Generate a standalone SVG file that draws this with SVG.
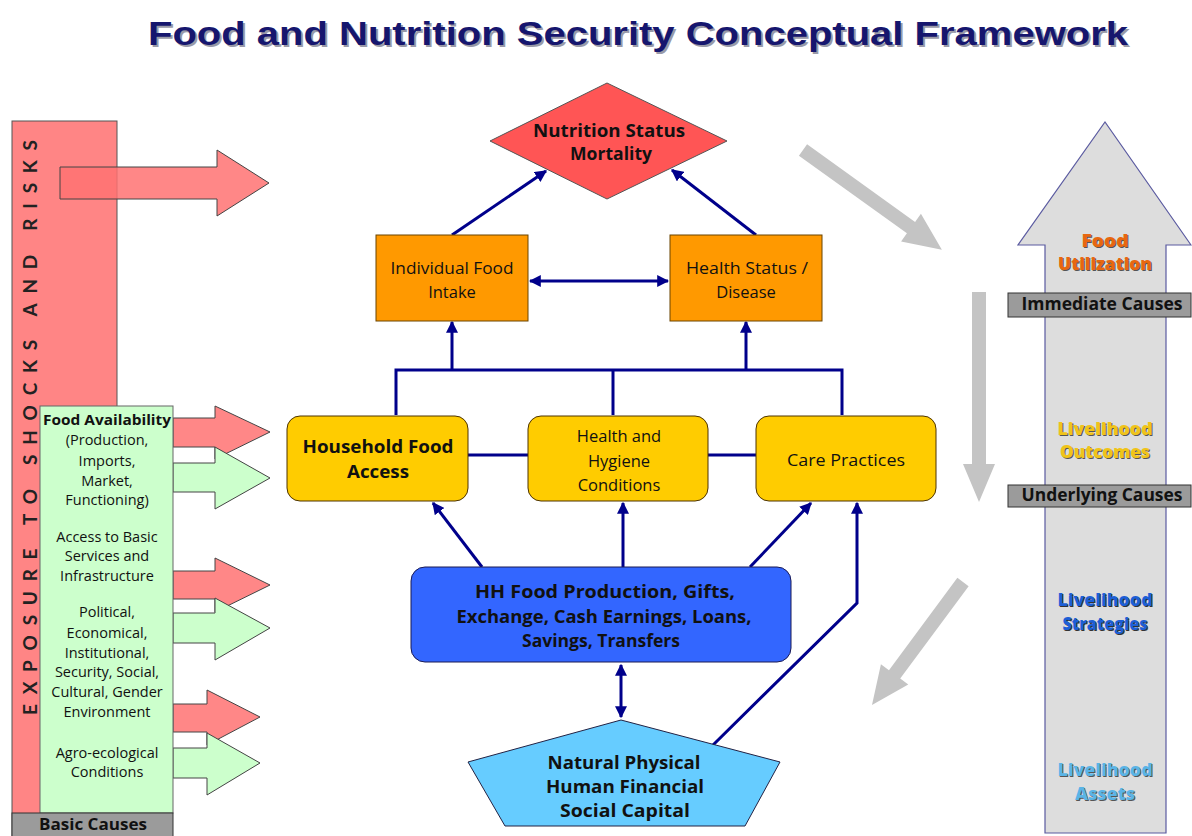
<svg xmlns="http://www.w3.org/2000/svg" width="1192" height="836" viewBox="0 0 1192 836">
<style>
.t{font-family:"Open Sans",Lato,"Liberation Sans",sans-serif;fill:#111;text-anchor:middle}
.b{font-weight:bold}
.conn{stroke:#00008b;stroke-width:3;fill:none}
.redA{fill:#ff7272;fill-opacity:0.85;stroke:#444;stroke-width:1}
.grnA{fill:#ccffcc;stroke:#444;stroke-width:1}
.grayA{fill:#c4c4c4}
.cause{fill:#9b9b9b;stroke:#333;stroke-width:1}
.lbl{font-family:"Open Sans",Lato,"Liberation Sans",sans-serif;font-weight:800;font-size:17px;text-anchor:middle}
</style>
<defs>
<marker id="ah" viewBox="0 0 10 10" refX="9" refY="5" markerWidth="4" markerHeight="4" orient="auto-start-reverse" markerUnits="strokeWidth">
<path d="M0,0 L10,5 L0,10 z" fill="#00008b"/>
</marker>
</defs>
<rect width="1192" height="836" fill="#ffffff"/>

<g id="title">
<text x="640" y="47" font-family="Liberation Sans,Arial,sans-serif" font-weight="bold" font-size="33" fill="#9a9aa8" text-anchor="middle" textLength="980" lengthAdjust="spacingAndGlyphs">Food and Nutrition Security Conceptual Framework</text>
<text x="638" y="45" font-family="Liberation Sans,Arial,sans-serif" font-weight="bold" font-size="33" fill="#16166e" text-anchor="middle" textLength="980" lengthAdjust="spacingAndGlyphs">Food and Nutrition Security Conceptual Framework</text>
</g>

<g id="exposure">
<rect x="12" y="121" width="105" height="720" fill="#ff8585" stroke="#555" stroke-width="1"/>
<polygon class="redA" points="60,167 217,167 217,150 269,183 217,216 217,199 60,199"/>
<text transform="translate(37,715) rotate(-90)" x="0" y="0" font-family="Lato,'Open Sans','Liberation Sans',sans-serif" font-size="19" fill="#222" font-weight="bold" textLength="575" lengthAdjust="spacing">EXPOSURE TO SHOCKS AND RISKS</text>
</g>

<g id="side-arrows">
<polygon class="redA" points="173,418 215,418 215,406 270,432 215,459 215,447 173,447"/>
<polygon class="grnA" points="173,463 215,463 215,447 270,478 215,509 215,492 173,492"/>
<polygon class="redA" points="173,571 215,571 215,558 270,585 215,612 215,599 173,599"/>
<polygon class="grnA" points="173,613 215,613 215,598 270,628 215,660 215,643 173,643"/>
<polygon class="redA" points="173,704 207,704 207,690 260,717 207,745 207,732 173,732"/>
<polygon class="grnA" points="173,748 207,748 207,733 260,763 207,795 207,778 173,778"/>
</g>

<g id="basic">
<rect x="40" y="406" width="133" height="407" fill="#ccffcc" stroke="#666" stroke-width="1"/>
<text class="t" font-size="14.5"><tspan x="107" y="425" font-weight="bold" textLength="128" lengthAdjust="spacingAndGlyphs">Food Availability</tspan><tspan x="107" y="445">(Production,</tspan><tspan x="107" y="466">Imports,</tspan><tspan x="107" y="486">Market,</tspan><tspan x="107" y="505">Functioning)</tspan></text>
<text class="t" font-size="14.5"><tspan x="107" y="542">Access to Basic</tspan><tspan x="107" y="561">Services and</tspan><tspan x="107" y="581">Infrastructure</tspan></text>
<text class="t" font-size="14.5"><tspan x="107" y="617">Political,</tspan><tspan x="107" y="638">Economical,</tspan><tspan x="107" y="658">Institutional,</tspan><tspan x="107" y="677">Security, Social,</tspan><tspan x="107" y="697">Cultural, Gender</tspan><tspan x="107" y="717">Environment</tspan></text>
<text class="t" font-size="14.5"><tspan x="107" y="758">Agro-ecological</tspan><tspan x="107" y="777">Conditions</tspan></text>
<rect class="cause" x="12" y="813" width="161" height="26"/>
<text class="t b" x="93" y="830" font-size="15.5" textLength="108" lengthAdjust="spacingAndGlyphs">Basic Causes</text>
</g>

<g id="connectors">
<line class="conn" x1="452" y1="235" x2="546" y2="171" marker-end="url(#ah)"/>
<line class="conn" x1="756" y1="235" x2="672" y2="170" marker-end="url(#ah)"/>
<line class="conn" x1="530" y1="281" x2="668" y2="281" marker-start="url(#ah)" marker-end="url(#ah)"/>
<polyline class="conn" points="396,415 396,370 842,370 842,415"/>
<line class="conn" x1="613" y1="370" x2="613" y2="415"/>
<line class="conn" x1="452" y1="370" x2="452" y2="322" marker-end="url(#ah)"/>
<line class="conn" x1="746" y1="370" x2="746" y2="322" marker-end="url(#ah)"/>
<line class="conn" x1="468" y1="455" x2="528" y2="455"/>
<line class="conn" x1="708" y1="455" x2="756" y2="455"/>
<line class="conn" x1="482" y1="567" x2="433" y2="503" marker-end="url(#ah)"/>
<line class="conn" x1="623" y1="567" x2="623" y2="503" marker-end="url(#ah)"/>
<line class="conn" x1="750" y1="567" x2="811" y2="503" marker-end="url(#ah)"/>
<polyline class="conn" points="712,746 857,603 857,503" marker-end="url(#ah)"/>
<line class="conn" x1="621" y1="665" x2="621" y2="717" marker-start="url(#ah)" marker-end="url(#ah)"/>
</g>

<g id="nutrition">
<polygon points="607,83 727,141 607,199 490,141" fill="#ff5555" stroke="#555" stroke-width="1"/>
<text class="t b" font-size="18"><tspan x="609" y="137" textLength="152" lengthAdjust="spacingAndGlyphs">Nutrition Status</tspan><tspan x="611" y="160" textLength="82" lengthAdjust="spacingAndGlyphs">Mortality</tspan></text>
</g>

<g id="intake">
<rect x="376" y="235" width="152" height="86" fill="#ff9900" stroke="#6b4500" stroke-width="1"/>
<text class="t" font-size="16.5"><tspan x="452" y="274" textLength="123" lengthAdjust="spacingAndGlyphs">Individual Food</tspan><tspan x="452" y="298">Intake</tspan></text>
</g>

<g id="health">
<rect x="670" y="235" width="152" height="86" fill="#ff9900" stroke="#6b4500" stroke-width="1"/>
<text class="t" font-size="16.5"><tspan x="747" y="274" textLength="122" lengthAdjust="spacingAndGlyphs">Health Status /</tspan><tspan x="746" y="298">Disease</tspan></text>
</g>

<g id="access">
<rect x="287" y="416" width="181" height="85" rx="13" fill="#ffcc00" stroke="#4d3300" stroke-width="1"/>
<text class="t b" font-size="18"><tspan x="378" y="453" textLength="151" lengthAdjust="spacingAndGlyphs">Household Food</tspan><tspan x="378" y="478" textLength="62" lengthAdjust="spacingAndGlyphs">Access</tspan></text>
</g>

<g id="hygiene">
<rect x="528" y="416" width="180" height="85" rx="13" fill="#ffcc00" stroke="#4d3300" stroke-width="1"/>
<text class="t" font-size="16.5"><tspan x="619" y="442">Health and</tspan><tspan x="619" y="467">Hygiene</tspan><tspan x="619" y="491">Conditions</tspan></text>
</g>

<g id="care">
<rect x="756" y="416" width="180" height="85" rx="13" fill="#ffcc00" stroke="#4d3300" stroke-width="1"/>
<text class="t" x="846" y="466" font-size="16.5" textLength="118" lengthAdjust="spacingAndGlyphs">Care Practices</text>
</g>

<g id="strategies">
<rect x="411" y="567" width="380" height="95" rx="14" fill="#3366ff" stroke="#1a1a55" stroke-width="1"/>
<text class="t b" font-size="18"><tspan x="605" y="598" textLength="260" lengthAdjust="spacingAndGlyphs">HH Food Production, Gifts,</tspan><tspan x="604" y="623" textLength="295" lengthAdjust="spacingAndGlyphs">Exchange, Cash Earnings, Loans,</tspan><tspan x="601" y="647" textLength="158" lengthAdjust="spacingAndGlyphs">Savings, Transfers</tspan></text>
</g>

<g id="assets">
<polygon points="621,720 780,762 745,826 505,826 468,762" fill="#66ccff" stroke="#222244" stroke-width="1"/>
<text class="t b" font-size="18"><tspan x="624" y="769" textLength="153" lengthAdjust="spacingAndGlyphs">Natural Physical</tspan><tspan x="625" y="793" textLength="158" lengthAdjust="spacingAndGlyphs">Human Financial</tspan><tspan x="625" y="817" textLength="130" lengthAdjust="spacingAndGlyphs">Social Capital</tspan></text>
</g>

<g id="cycle">
<polygon class="grayA" transform="translate(803,150) rotate(35.7)" points="0,-7 133,-7 133,-17 171,0 133,17 133,7 0,7"/>
<polygon class="grayA" transform="translate(979,292) rotate(90)" points="0,-7 172,-7 172,-16 210,0 172,16 172,7 0,7"/>
<polygon class="grayA" transform="translate(963,582) rotate(126.5)" points="0,-7 115,-7 115,-17 153,0 115,17 115,7 0,7"/>
</g>

<g id="causal-arrow">
<polygon points="1045,833 1045,245 1018,245 1105,122 1191,245 1166,245 1166,833" fill="#dddddd" stroke="#5a5aa0" stroke-width="1.2"/>
<g class="lbl">
<text x="1106" y="248" fill="#555" textLength="47" lengthAdjust="spacingAndGlyphs">Food</text><text x="1105" y="247" fill="#e8670f" textLength="47" lengthAdjust="spacingAndGlyphs">Food</text>
<text x="1106" y="271" fill="#555" textLength="94" lengthAdjust="spacingAndGlyphs">Utilization</text><text x="1105" y="270" fill="#e8670f" textLength="94" lengthAdjust="spacingAndGlyphs">Utilization</text>
<text x="1106" y="436" fill="#555" textLength="95" lengthAdjust="spacingAndGlyphs">Livelihood</text><text x="1105" y="435" fill="#f0c419" textLength="95" lengthAdjust="spacingAndGlyphs">Livelihood</text>
<text x="1106" y="459" fill="#555" textLength="90" lengthAdjust="spacingAndGlyphs">Outcomes</text><text x="1105" y="458" fill="#f0c419" textLength="90" lengthAdjust="spacingAndGlyphs">Outcomes</text>
<text x="1106" y="607" fill="#333" textLength="95" lengthAdjust="spacingAndGlyphs">Livelihood</text><text x="1105" y="606" fill="#1d5fd6" textLength="95" lengthAdjust="spacingAndGlyphs">Livelihood</text>
<text x="1106" y="631" fill="#333" textLength="85" lengthAdjust="spacingAndGlyphs">Strategies</text><text x="1105" y="630" fill="#1d5fd6" textLength="85" lengthAdjust="spacingAndGlyphs">Strategies</text>
<text x="1106" y="777" fill="#555" textLength="95" lengthAdjust="spacingAndGlyphs">Livelihood</text><text x="1105" y="776" fill="#5ab4e6" textLength="95" lengthAdjust="spacingAndGlyphs">Livelihood</text>
<text x="1106" y="801" fill="#555" textLength="60" lengthAdjust="spacingAndGlyphs">Assets</text><text x="1105" y="800" fill="#5ab4e6" textLength="60" lengthAdjust="spacingAndGlyphs">Assets</text>
</g>
<rect class="cause" x="1008" y="293" width="183" height="24"/>
<text class="t b" x="1102" y="310" font-size="17" textLength="161" lengthAdjust="spacingAndGlyphs">Immediate Causes</text>
<rect class="cause" x="1008" y="485" width="183" height="22"/>
<text class="t b" x="1102" y="501" font-size="17" textLength="161" lengthAdjust="spacingAndGlyphs">Underlying Causes</text>
</g>
</svg>
